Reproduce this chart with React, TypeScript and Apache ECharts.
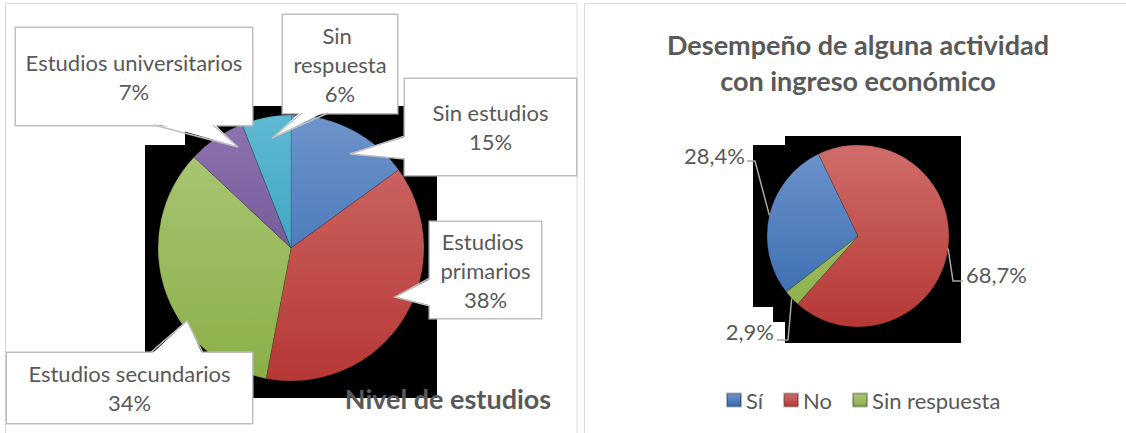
import React, { useEffect, useRef } from "react";
import * as echarts from "echarts";

// ---------- data ----------
const educationTitle = "Nivel de estudios";
const educationCategories = [
  "Sin estudios",
  "Estudios primarios",
  "Estudios secundarios",
  "Estudios universitarios",
  "Sin respuesta",
];
const educationValues = [15, 38, 34, 7, 6];

const incomeTitle = "Desempeño de alguna actividad\ncon ingreso económico";
const incomeCategories = ["Sí", "No", "Sin respuesta"];
const incomeValues = [28.4, 68.7, 2.9];

// ---------- layout / style ----------
const FONT = "Lato, 'Noto Sans', sans-serif";
const TEXT = "#595959";
const BOX_BORDER = "#bfbfbf";

const EDU_CENTER = [291, 248];
const EDU_R = 133;
const INC_CENTER = [858, 236];
const INC_R = 91;
const INC_START = 218;

const LABEL_FONT = 22;
const LABEL_LH = 29;

const eduColorStops = [
  ["#6d93cb", "#2f66ad"],
  ["#cf6d6a", "#b63835"],
  ["#adc879", "#8aaf47"],
  ["#8e75b0", "#5f4289"],
  ["#5fb9d2", "#2295b5"],
];
const incColorStops = [
  ["#6d93cb", "#3569ae"],
  ["#cf6d6a", "#b63835"],
  ["#adc879", "#8aaf47"],
];

// callout boxes of the left chart: [x0, y0, x1, y1], number of text lines, pointer base & tip
const eduCallouts = [
  { box: [405, 79, 576, 175], lines: 2, base: [[405, 136], [405, 159]], tip: [350, 154] },
  { box: [430, 222, 541, 318], lines: 3, base: [[430, 278], [430, 306]], tip: [395, 297] },
  { box: [7, 353, 252, 423], lines: 2, base: [[150, 353], [203, 353]], tip: [187, 321] },
  { box: [16, 28, 252, 125], lines: 2, base: [[154, 125], [213, 125]], tip: [238, 147] },
  { box: [283, 15, 397, 113], lines: 3, base: [[302, 113], [328, 113]], tip: [272, 138] },
];

// right chart label anchors and leader elbows
const incLabels = [
  { x: 745, y: 155, align: "right", elbow: [[755, 161], [747, 161]] },
  { x: 966, y: 274, align: "left", elbow: [[953, 281], [963, 281]] },
  { x: 774, y: 331, align: "right", elbow: [[788, 340], [777, 340]] },
];

const shadowLeft = [[185, 106], [437, 106], [437, 398], [145, 398], [145, 145], [185, 145]];
const shadowRight = [
  [785, 136], [961, 136], [961, 343], [785, 343], [785, 322], [773, 322],
  [773, 307], [753, 307], [753, 145], [785, 145],
];

function globalGrad(cy: number, r: number, stops: string[]) {
  return new echarts.graphic.LinearGradient(
    0, cy - r, 0, cy + r,
    [{ offset: 0, color: stops[0] }, { offset: 1, color: stops[1] }],
    true
  );
}

function localGrad(stops: string[]) {
  return new echarts.graphic.LinearGradient(0, 0, 0, 1, [
    { offset: 0, color: stops[0] },
    { offset: 1, color: stops[1] },
  ]);
}

function buildOption() {
  const graphic: any[] = [];

  // panel borders
  graphic.push({
    type: "rect", z: 0, silent: true,
    shape: { x: 5.5, y: 3.5, width: 571.5, height: 440 },
    style: { fill: "none", stroke: "#d9d9d9", lineWidth: 1 },
  });
  graphic.push({
    type: "rect", z: 0, silent: true,
    shape: { x: 584.5, y: 3.5, width: 560, height: 440 },
    style: { fill: "none", stroke: "#d9d9d9", lineWidth: 1 },
  });

  // shadows
  graphic.push({ type: "polygon", z: 0, silent: true, shape: { points: shadowLeft }, style: { fill: "#000" } });
  graphic.push({ type: "polygon", z: 0, silent: true, shape: { points: shadowRight }, style: { fill: "#000" } });

  // callout pointers
  eduCallouts.forEach((c) => {
    const [x0, y0, x1, y1] = c.box;
    const bcx = (x0 + x1) / 2;
    const bcy = (y0 + y1) / 2;
    const mx = (c.base[0][0] + c.base[1][0]) / 2;
    const my = (c.base[0][1] + c.base[1][1]) / 2;
    let dx = bcx - mx;
    let dy = bcy - my;
    // inset direction perpendicular to the edge
    if (c.base[0][0] === c.base[1][0]) { dx = Math.sign(dx) * 2.5; dy = 0; } else { dy = Math.sign(dy) * 2.5; dx = 0; }
    graphic.push({
      type: "polygon", z: 100, silent: true,
      shape: {
        points: [
          [c.base[0][0] + dx, c.base[0][1] + dy],
          c.tip,
          [c.base[1][0] + dx, c.base[1][1] + dy],
        ],
      },
      style: { fill: "#fff" },
    });
    graphic.push({
      type: "polyline", z: 101, silent: true,
      shape: { points: [c.base[0], c.tip, c.base[1]] },
      style: { stroke: BOX_BORDER, lineWidth: 1.5, fill: "none" },
    });
  });

  // leader lines for the right pie, starting on each slice's mid-angle
  const incTotal = incomeValues.reduce((a, b) => a + b, 0);
  let acc = 0;
  incomeValues.forEach((v, i) => {
    const mid = INC_START - (360 * (acc + v / 2)) / incTotal;
    acc += v;
    const rad = (mid * Math.PI) / 180;
    const sx = INC_CENTER[0] + INC_R * Math.cos(rad);
    const sy = INC_CENTER[1] - INC_R * Math.sin(rad);
    graphic.push({
      type: "polyline", z: 10, silent: true,
      shape: { points: [[sx, sy], ...incLabels[i].elbow] },
      style: { stroke: "#a6a6a6", lineWidth: 1.5, fill: "none" },
    });
  });

  const eduData = educationCategories.map((name, i) => {
    const c = eduCallouts[i];
    const w = c.box[2] - c.box[0];
    const h = c.box[3] - c.box[1];
    const pv = (h - c.lines * LABEL_LH) / 2;
    return {
      name,
      value: educationValues[i],
      itemStyle: { color: globalGrad(EDU_CENTER[1], EDU_R, eduColorStops[i]) },
      label: { width: w - 6, padding: [pv, 3, pv, 3] },
    };
  });

  const incData = incomeCategories.map((name, i) => ({
    name,
    value: incomeValues[i],
    itemStyle: { color: globalGrad(INC_CENTER[1], INC_R, incColorStops[i]) },
  }));

  return {
    animation: false,
    backgroundColor: "#fff",
    title: [
      {
        text: educationTitle,
        left: 448,
        top: 381,
        padding: 0,
        textAlign: "center",
        textStyle: { fontFamily: FONT, fontSize: 27, fontWeight: "bold", color: TEXT, lineHeight: 34 },
      },
      {
        text: incomeTitle,
        left: 858,
        top: 26,
        padding: 0,
        textAlign: "center",
        textStyle: { fontFamily: FONT, fontSize: 27, fontWeight: "bold", color: TEXT, lineHeight: 36 },
      },
    ],
    legend: {
      selectedMode: false,
      left: 726,
      top: 389,
      padding: 0,
      itemWidth: 14,
      itemHeight: 13,
      itemGap: 20,
      icon: "rect",
      textStyle: { fontFamily: FONT, fontSize: LABEL_FONT, color: TEXT },
      data: incomeCategories.map((name, i) => ({
        name,
        itemStyle: { color: localGrad(incColorStops[i]) },
      })),
    },
    graphic,
    series: [
      {
        type: "pie",
        center: EDU_CENTER,
        radius: EDU_R,
        startAngle: 90,
        clockwise: true,
        avoidLabelOverlap: false,
        itemStyle: { borderColor: "rgba(40,40,40,0.35)", borderWidth: 0.6 },
        label: {
          show: true,
          position: "outside",
          formatter: (p: any) => `${p.name}\n${p.value}%`,
          fontFamily: FONT,
          fontSize: LABEL_FONT,
          lineHeight: LABEL_LH,
          color: TEXT,
          overflow: "break",
          backgroundColor: "#fff",
          borderColor: BOX_BORDER,
          borderWidth: 1.5,
        },
        labelLine: { show: false },
        labelLayout: (params: any) => {
          const c = eduCallouts[params.dataIndex];
          return {
            x: (c.box[0] + c.box[2]) / 2,
            y: (c.box[1] + c.box[3]) / 2,
            align: "center",
            verticalAlign: "middle",
          };
        },
        emphasis: { disabled: true },
        data: eduData,
      },
      {
        type: "pie",
        center: INC_CENTER,
        radius: INC_R,
        startAngle: INC_START,
        clockwise: true,
        avoidLabelOverlap: false,
        itemStyle: { borderColor: "rgba(40,40,40,0.35)", borderWidth: 0.6 },
        label: {
          show: true,
          position: "outside",
          formatter: (p: any) => `${Number(p.value).toFixed(1).replace(".", ",")}%`,
          fontFamily: FONT,
          fontSize: LABEL_FONT,
          color: TEXT,
        },
        labelLine: { show: false },
        labelLayout: (params: any) => {
          const l = incLabels[params.dataIndex];
          return { x: l.x, y: l.y, align: l.align, verticalAlign: "middle" };
        },
        emphasis: { disabled: true },
        data: incData,
      },
    ],
  };
}

export default function App() {
  const ref = useRef<HTMLDivElement>(null);
  useEffect(() => {
    if (!ref.current) return;
    const chart = echarts.init(ref.current, undefined, { renderer: "svg" });
    chart.setOption(buildOption() as any);
    return () => chart.dispose();
  }, []);
  return (
    <div
      ref={ref}
      style={{ position: "fixed", left: 0, top: 0, width: 1126, height: 433, background: "#fff" }}
    />
  );
}
